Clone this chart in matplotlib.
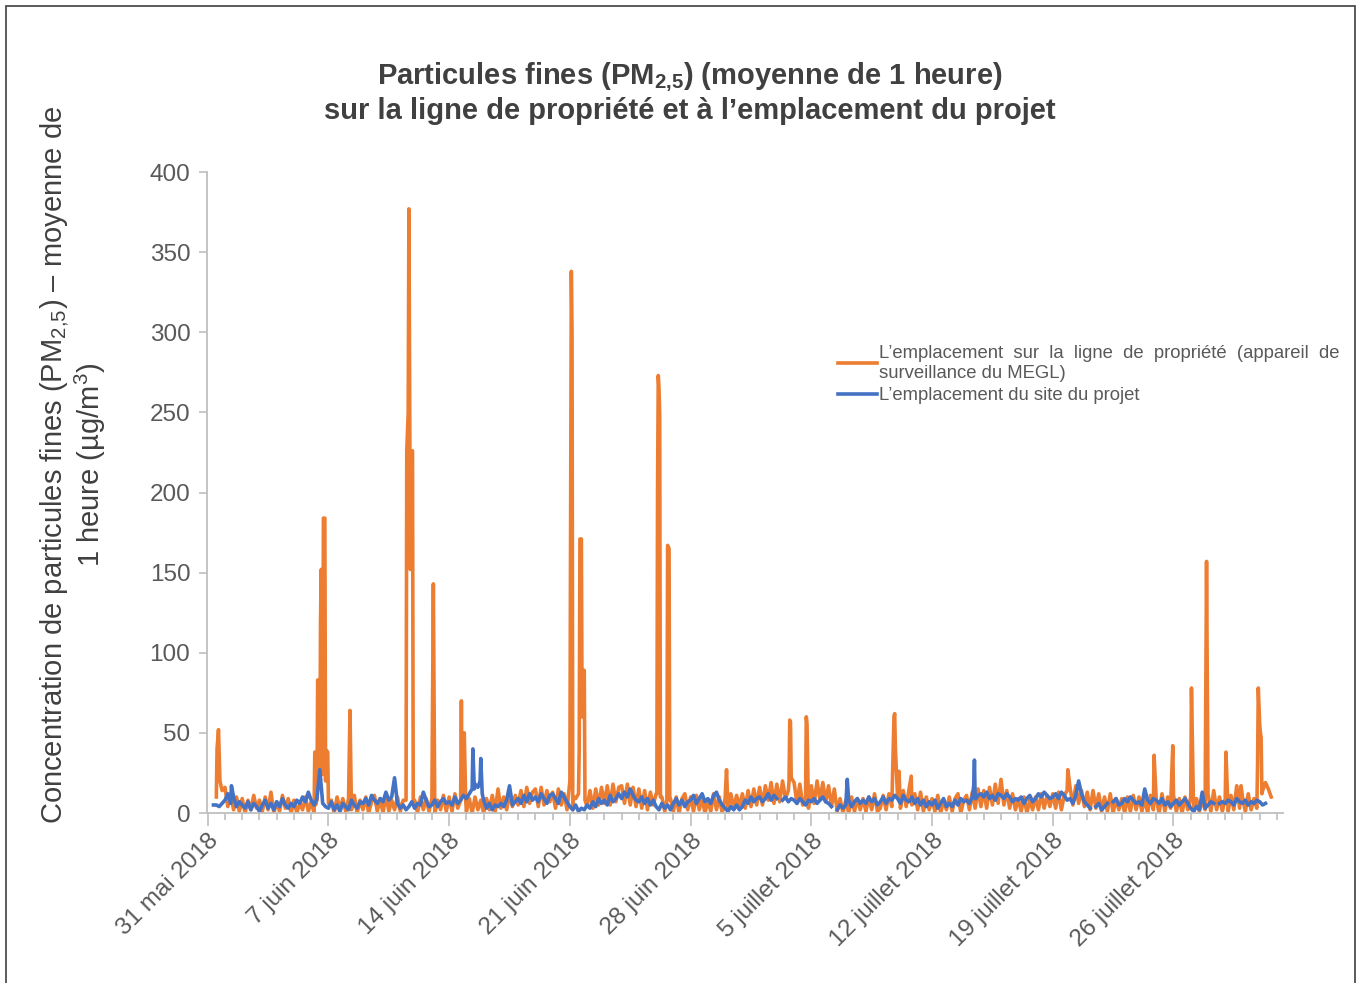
import numpy as np
import pandas as pd
import matplotlib
matplotlib.use('Agg')
import matplotlib.pyplot as plt
from matplotlib.patches import Rectangle
from matplotlib.lines import Line2D

plt.rcParams['font.family'] = ['Liberation Sans', 'DejaVu Sans']
plt.rcParams['mathtext.fontset'] = 'custom'
plt.rcParams['mathtext.rm'] = 'Liberation Sans'
plt.rcParams['mathtext.default'] = 'regular'

nan = np.nan
debut = pd.Timestamp('2018-05-31')

# niveaux relevés toutes les 4 h (0h, 4h, 8h, 12h, 16h, 20h), une ligne par jour
orange_base = [
    [nan, nan, nan, 10, 35, 14], [16, 4, 12, 2, 10, 1], [9, 0, 8, 2, 11, 3],
    [8, 1, 10, 2, 13, 0], [7, 1, 11, 3, 9, 0], [8, 0, 6, 2, 10, 1],
    [7, 0, 9, 12, 2, 10], [1, 8, 0, 10, 2, 9], [1, 9, 2, 11, 0, 8],
    [2, 10, 0, 7, 11, 1], [9, 0, 12, 1, 8, 2], [10, 1, 8, 0, 9, 2],
    [8, 0, 10, 2, 9, 1], [9, 0, 8, 2, 11, 1], [10, 1, 12, 3, 9, 8],
    [1, 9, 0, 10, 2, 8], [0, 9, 2, 11, 1, 15], [3, 10, 2, 12, 4, 11],
    [5, 14, 4, 16, 6, 13], [15, 4, 16, 5, 14, 7], [13, 3, 15, 5, 12, 2],
    [10, 2, 9, 1, 10, 10], [4, 14, 3, 15, 5, 16], [6, 17, 5, 18, 7, 16],
    [17, 6, 18, 5, 16, 4], [15, 3, 14, 2, 13, 5], [12, 2, 10, 1, 6, 9],
    [1, 10, 0, 9, 12, 2], [10, 1, 11, 2, 9, 0], [8, 1, 12, 2, 10, 0],
    [9, 2, 12, 3, 11, 4], [12, 3, 14, 4, 15, 5], [16, 5, 17, 8, 19, 6],
    [18, 7, 20, 9, 14, 22], [19, 6, 18, 5, 10, 3], [17, 6, 20, 8, 19, 7],
    [17, 4, 15, 1, 9, 0], [8, 0, 10, 1, 9, 2], [9, 1, 10, 2, 12, 1],
    [3, 11, 2, 12, 4, 10], [10, 3, 14, 4, 15, 5], [12, 2, 13, 1, 10, 2],
    [9, 1, 11, 0, 8, 2], [10, 1, 9, 12, 0, 8], [11, 2, 13, 3, 15, 4],
    [14, 3, 16, 5, 18, 6], [21, 5, 14, 3, 12, 2], [9, 1, 10, 0, 8, 2],
    [10, 2, 12, 3, 11, 4], [12, 3, 13, 2, 11, 14], [16, 5, 17, 6, 14, 4],
    [13, 2, 14, 3, 12, 1], [10, 1, 12, 0, 9, 2], [9, 0, 10, 1, 11, 2],
    [10, 1, 9, 0, 11, 2], [8, 0, 12, 1, 10, 3], [11, 1, 9, 0, 10, 2],
    [10, 0, 9, 1, 8, 2], [12, 1, 14, 2, 10, 1], [9, 1, 11, 2, 17, 3],
    [10, 1, 12, 2, 9, 3], [55, 14, 19, 15, 10, nan],
]

# pointes (heure depuis le 31 mai 0h : valeur)
orange_pointes = {
    13: 40, 15: 52, 17: 20,
    149: 38, 150: 5, 152: 8, 153: 83, 155: 80, 156: 25, 157: 120, 158: 152,
    159: 60, 160: 24, 161: 184, 163: 184, 164: 20, 165: 39, 167: 38, 168: 6,
    198: 64,
    276: 8, 277: 226, 279: 250, 280: 377, 282: 152, 283: 226, 284: 226,
    285: 226, 286: 8,
    314: 143,
    352: 8, 353: 70, 354: 10, 356: 12, 357: 50, 359: 8,
    504: 20, 506: 338, 507: 300, 509: 10, 516: 12, 517: 40, 518: 171,
    520: 171, 521: 60, 523: 89, 524: 89, 525: 8,
    625: 12, 626: 200, 627: 273, 628: 265, 629: 248, 630: 10,
    639: 8, 640: 167, 642: 165, 643: 8,
    722: 27,
    809: 20, 810: 58, 811: 57,
    833: 60, 834: 55,
    955: 60, 956: 62, 957: 40, 962: 26, 979: 23,
    1197: 27, 1317: 36, 1343: 42, 1369: 78, 1390: 157,
    1417: 38, 1438: 17,
    1461: 30, 1462: 78, 1465: 50, 1466: 47, 1467: 12,
}

bleu_base = [
    [nan, nan, 5, 5, 4, 6], [8, 12, 6, 10, 4, 7], [5, 3, 7, 2, 6, 4],
    [1, 5, 8, 3, 6, 2], [7, 4, 9, 5, 3, 6], [4, 8, 6, 10, 7, 13],
    [8, 5, 9, 27, 6, 4], [3, 7, 2, 5, 1, 6], [4, 2, 8, 5, 3, 7],
    [6, 9, 5, 11, 8, 6], [9, 7, 13, 8, 10, 22], [6, 3, 5, 2, 4, 7],
    [3, 6, 5, 13, 8, 4], [5, 8, 4, 7, 9, 6], [7, 5, 10, 6, 8, 11],
    [9, 12, 15, 18, 16, 34], [8, 3, 6, 2, 5, 4], [6, 4, 8, 17, 5, 7],
    [9, 6, 11, 7, 12, 8], [10, 7, 12, 9, 6, 11], [12, 9, 6, 13, 10, 7],
    [4, 2, 5, 1, 3, 2], [5, 3, 7, 4, 9, 6], [8, 5, 11, 7, 9, 12],
    [9, 13, 10, 15, 11, 8], [7, 10, 6, 9, 5, 8], [4, 2, 6, 3, 5, 2],
    [6, 9, 5, 8, 4, 7], [8, 11, 6, 9, 12, 7], [9, 6, 11, 13, 8, 5],
    [3, 1, 4, 2, 5, 2], [4, 8, 6, 10, 7, 9], [10, 7, 9, 12, 8, 11],
    [9, nan, 8, 10, 7, 9], [8, 6, 9, 7, 5, 8], [7, 9, 6, 8, 10, 7],
    [6, 4, nan, 2, 5, 3], [5, 8, 4, 7, 9, 6], [8, 6, 10, 7, 9, 5],
    [7, 10, 6, 9, 8, 11], [9, 6, 11, 8, 7, 10], [6, 9, 5, 8, 4, 7],
    [5, 8, 3, 6, 9, 4], [6, 4, 8, 5, 9, 7], [8, 6, 10, 9, 11, 12],
    [10, 13, 9, 11, 8, 12], [11, 9, 12, 10, 7, 9], [8, 10, 6, 9, 11, 7],
    [9, 12, 10, 13, 11, 9], [10, 12, 9, 13, 11, 8], [9, 6, 11, 20, 12, 7],
    [5, 3, nan, 4, 6, 2], [4, 6, nan, 7, 9, 5], [6, 9, 7, 10, 8, 6],
    [7, 5, 15, 8, 6, 9], [8, 6, 9, 5, 7, 4], [6, 8, 5, 7, 9, 6],
    [3, 1, 4, 2, 13, 3], [5, 7, 6, nan, 6, 7], [6, 8, 7, 5, 9, 7],
    [6, 8, 5, 7, 6, 8], [7, 5, 6, nan, nan, nan],
]

bleu_pointes = {
    33: 17, 369: 40, 371: 15, 379: 20, 380: 34, 382: 12,
    890: 21, 1066: 17, 1067: 33, 1069: 9,
}

etiquettes_dates = ['31 mai 2018', '7 juin 2018', '14 juin 2018', '21 juin 2018',
                    '28 juin 2018', '5 juillet 2018', '12 juillet 2018',
                    '19 juillet 2018', '26 juillet 2018']

orange = '#ED7D31'
bleu = '#4472C4'
gris_texte = '#595959'
gris_axe = '#BFBFBF'


def serie(base, pointes):
    vals = np.array(base, dtype=float).ravel()
    s = pd.Series(vals, index=np.arange(len(vals)) * 4.0)
    p = pd.Series(list(pointes.values()), index=np.array(list(pointes.keys()), dtype=float))
    s = p.combine_first(s)
    temps = debut + pd.to_timedelta(s.index.values, unit='h')
    return temps, s.values


fig = plt.figure(figsize=(13.57, 9.83), dpi=100)
ax = fig.add_axes([207 / 1357, 1 - 813 / 983, 1076 / 1357, 641 / 983])

t_o, v_o = serie(orange_base, orange_pointes)
t_b, v_b = serie(bleu_base, bleu_pointes)
ax.plot(t_o, v_o, color=orange, lw=2.6, solid_joinstyle='round')
ax.plot(t_b, v_b, color=bleu, lw=2.6, solid_joinstyle='round')

ax.set_ylim(0, 400)
ax.set_yticks(np.arange(0, 401, 50))
ax.set_xlim(debut - pd.Timedelta(hours=1), debut + pd.Timedelta(days=62.35))

majeurs = [debut + pd.Timedelta(days=7 * k) for k in range(len(etiquettes_dates))]
mineurs = [debut + pd.Timedelta(days=k) for k in range(63)]
ax.set_xticks(majeurs)
ax.set_xticks(mineurs, minor=True)
ax.set_xticklabels(etiquettes_dates, rotation=45, ha='right', va='top',
                   rotation_mode='anchor')

for s in ['top', 'right']:
    ax.spines[s].set_visible(False)
for s in ['left', 'bottom']:
    ax.spines[s].set_color(gris_axe)
    ax.spines[s].set_linewidth(1.3)
ax.tick_params(axis='y', colors=gris_axe, labelcolor=gris_texte, labelsize=17.5,
               length=6, width=1.2, pad=6)
ax.tick_params(axis='x', which='major', colors=gris_axe, labelcolor=gris_texte,
               labelsize=17.5, length=9, width=1.2, pad=3)
ax.tick_params(axis='x', which='minor', colors=gris_axe, length=5, width=1.2)

fig.text(690 / 1357, 1 - 93 / 983,
         'Particules fines (PM$_{2{,}5}$) (moyenne de 1 heure)\n'
         'sur la ligne de propriété et à l’emplacement du projet',
         ha='center', va='center', fontsize=21, fontweight='bold',
         color='#404040', linespacing=1.12)

fig.text(73 / 1357, 1 - 465 / 983,
         'Concentration de particules fines (PM$_{2{,}5}$) – moyenne de\n'
         '1 heure (µg/m$^{3}$)',
         rotation=90, ha='center', va='center', multialignment='center',
         fontsize=21, color='#404040', linespacing=1.05)

poignees = [Line2D([], [], color=orange, lw=2.6), Line2D([], [], color=bleu, lw=2.6)]
ax.legend(poignees,
          ['L’emplacement  sur  la  ligne  de  propriété  (appareil  de\n'
           'surveillance du MEGL)',
           'L’emplacement du site du projet'],
          loc='upper left', bbox_to_anchor=(0.586, 0.73), frameon=False,
          fontsize=13.3, handlelength=2.15, handletextpad=0.1,
          labelspacing=0.3, borderaxespad=0, borderpad=0,
          labelcolor=gris_texte)

fig.add_artist(Rectangle((6 / 1357, -0.01), 1349 / 1357, 1 - 6 / 983 + 0.01,
                         transform=fig.transFigure, fill=False,
                         edgecolor='#404040', lw=1.2))

fig.savefig('out.png', dpi=100)
